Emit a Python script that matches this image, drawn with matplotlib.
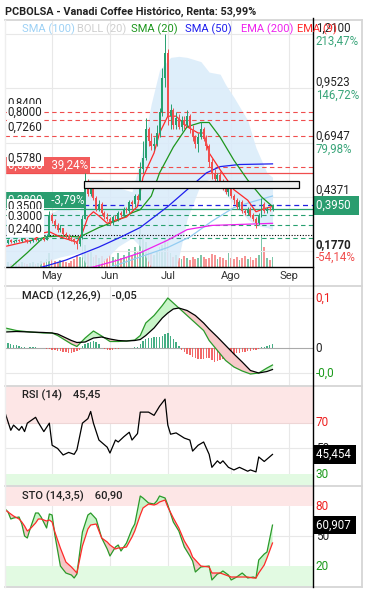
import numpy as np
import pandas as pd
import matplotlib
matplotlib.use('Agg')
import matplotlib.pyplot as plt
from matplotlib.patches import Rectangle
from matplotlib.lines import Line2D

plt.rcParams['font.family'] = ['Roboto', 'DejaVu Sans']

# --- data -----------------------------------------------------------------
holidays = ['2025-04-18', '2025-04-21', '2025-05-01']
days = pd.bdate_range('2025-04-03', '2025-08-22', freq='C', holidays=holidays)
axis_days = pd.bdate_range('2025-04-03', '2025-09-12', freq='C', holidays=holidays)
month_labels = ['May', 'Jun', 'Jul', 'Ago', 'Sep']

opens = [0.215, 0.22, 0.215, 0.23, 0.22, 0.225, 0.23, 0.225, 0.235, 0.23,
         0.22, 0.225, 0.235, 0.23, 0.235, 0.24, 0.23, 0.25, 0.35, 0.32,
         0.30, 0.28, 0.29, 0.26, 0.25, 0.24, 0.235, 0.22, 0.21, 0.24,
         0.33, 0.50, 0.45, 0.48, 0.43, 0.38, 0.40, 0.36, 0.34, 0.33,
         0.31, 0.34, 0.33, 0.36, 0.35, 0.38, 0.37, 0.41, 0.40, 0.44,
         0.42, 0.57, 0.62, 0.76, 0.70, 0.68, 0.69, 0.74, 0.84, 1.00,
         1.12, 0.82, 0.85, 0.78, 0.81, 0.77, 0.80, 0.78, 0.82, 0.76,
         0.72, 0.69, 0.72, 0.76, 0.71, 0.68, 0.60, 0.55, 0.52, 0.54,
         0.51, 0.48, 0.46, 0.48, 0.44, 0.42, 0.39, 0.41, 0.37, 0.36,
         0.38, 0.35, 0.33, 0.31, 0.35, 0.40, 0.37, 0.38, 0.375]
highs = [0.225, 0.23, 0.235, 0.235, 0.23, 0.235, 0.235, 0.24, 0.24, 0.235,
         0.23, 0.24, 0.24, 0.24, 0.245, 0.245, 0.26, 0.37, 0.36, 0.33,
         0.31, 0.30, 0.29, 0.27, 0.26, 0.25, 0.24, 0.225, 0.25, 0.35,
         0.55, 0.52, 0.50, 0.49, 0.44, 0.42, 0.41, 0.37, 0.36, 0.34,
         0.35, 0.35, 0.37, 0.37, 0.39, 0.39, 0.42, 0.42, 0.45, 0.45,
         0.60, 0.70, 0.81, 0.77, 0.74, 0.72, 0.78, 0.86, 1.05, 1.21,
         1.14, 0.88, 0.86, 0.84, 0.83, 0.82, 0.82, 0.85, 0.83, 0.78,
         0.73, 0.74, 0.79, 0.77, 0.73, 0.69, 0.62, 0.57, 0.55, 0.56,
         0.52, 0.50, 0.49, 0.49, 0.45, 0.43, 0.42, 0.42, 0.38, 0.39,
         0.39, 0.36, 0.34, 0.36, 0.43, 0.41, 0.39, 0.39, 0.40]
lows = [0.205, 0.21, 0.21, 0.215, 0.215, 0.22, 0.22, 0.22, 0.225, 0.215,
        0.215, 0.22, 0.225, 0.225, 0.23, 0.225, 0.23, 0.25, 0.31, 0.29,
        0.27, 0.27, 0.25, 0.24, 0.23, 0.225, 0.21, 0.19, 0.20, 0.235,
        0.33, 0.44, 0.44, 0.42, 0.37, 0.37, 0.35, 0.33, 0.32, 0.30,
        0.30, 0.32, 0.32, 0.34, 0.34, 0.36, 0.36, 0.38, 0.39, 0.41,
        0.42, 0.55, 0.61, 0.68, 0.66, 0.66, 0.68, 0.72, 0.82, 0.96,
        0.78, 0.76, 0.76, 0.76, 0.76, 0.75, 0.76, 0.77, 0.74, 0.70,
        0.67, 0.65, 0.71, 0.70, 0.66, 0.58, 0.52, 0.50, 0.49, 0.50,
        0.47, 0.45, 0.44, 0.43, 0.40, 0.38, 0.38, 0.36, 0.35, 0.35,
        0.34, 0.32, 0.29, 0.30, 0.34, 0.36, 0.36, 0.37, 0.37]
closes = [0.22, 0.215, 0.23, 0.22, 0.225, 0.23, 0.225, 0.235, 0.23, 0.22,
          0.225, 0.235, 0.23, 0.235, 0.24, 0.23, 0.25, 0.35, 0.32, 0.30,
          0.28, 0.29, 0.26, 0.25, 0.24, 0.235, 0.22, 0.21, 0.24, 0.33,
          0.50, 0.45, 0.48, 0.43, 0.38, 0.40, 0.36, 0.34, 0.33, 0.31,
          0.34, 0.33, 0.36, 0.35, 0.38, 0.37, 0.41, 0.40, 0.44, 0.42,
          0.57, 0.62, 0.76, 0.70, 0.68, 0.69, 0.74, 0.84, 1.00, 1.12,
          0.82, 0.85, 0.78, 0.81, 0.77, 0.80, 0.78, 0.82, 0.76, 0.72,
          0.69, 0.72, 0.76, 0.71, 0.68, 0.60, 0.55, 0.52, 0.54, 0.51,
          0.48, 0.46, 0.48, 0.44, 0.42, 0.39, 0.41, 0.37, 0.36, 0.38,
          0.35, 0.33, 0.31, 0.35, 0.40, 0.37, 0.38, 0.375, 0.395]
volume = [6, 4, 5, 3, 4, 6, 3, 5, 4, 3, 4, 5, 3, 4, 6, 5, 8, 14,
          8, 6, 5, 7, 6, 5, 4, 6, 8, 12, 10,
          28, 22, 14, 16, 10, 12, 9, 11, 8, 9, 12,
          10, 8, 14, 9, 12, 10, 18, 12, 20, 15,
          38, 33, 25, 18, 14, 12, 16, 20, 22, 29, 25,
          14, 10, 12, 9, 8, 11, 9, 7, 10, 8, 9, 12, 10, 8,
          9, 13, 12, 8, 10, 9, 7, 14, 9, 8, 10, 7, 9, 11, 8, 10, 7, 9, 12,
          31, 20, 9, 7, 10]

# overlays (day index, price)
ema9_idx = [1, 11, 15, 17, 21, 27, 29, 31, 33, 35, 38, 41, 45, 49, 51, 55, 57, 60, 63, 67,
            71, 73, 75, 79, 84, 89, 92, 95, 98]
ema9 = [0.20, 0.23, 0.265, 0.27, 0.245, 0.22, 0.265, 0.34, 0.365, 0.345, 0.31, 0.325, 0.34,
        0.39, 0.53, 0.645, 0.74, 0.82, 0.82, 0.77, 0.74, 0.74, 0.645, 0.565, 0.47, 0.42,
        0.365, 0.38, 0.39]
sma20_idx = [0, 3, 9, 15, 21, 28, 35, 42, 47, 50, 54, 57, 62, 67, 72, 75, 79, 84, 89, 94,
             98]
sma20 = [0.07, 0.10, 0.17, 0.245, 0.25, 0.245, 0.29, 0.325, 0.36, 0.375, 0.44, 0.55, 0.673,
         0.77, 0.79, 0.79, 0.72, 0.61, 0.516, 0.436, 0.39]
sma50_idx = [14, 23, 35, 43, 50, 60, 67, 74, 79, 86, 98]
sma50 = [0.10, 0.135, 0.197, 0.245, 0.29, 0.39, 0.47, 0.55, 0.58, 0.59, 0.593]
sma100_idx = [39, 50, 60, 68, 76, 84, 90, 98]
sma100 = [0.10, 0.15, 0.195, 0.245, 0.32, 0.385, 0.41, 0.44]
ema200_idx = [30, 33, 42, 50, 60, 67, 76, 98]
ema200 = [0.095, 0.102, 0.135, 0.17, 0.23, 0.28, 0.30, 0.31]
boll_idx = [0, 3, 9, 14, 21, 28, 31, 36, 42, 47, 50, 54, 57, 61, 64, 67, 72, 75, 79, 81,
            84, 89, 92, 96, 98]
boll_up = [0.33, 0.33, 0.33, 0.34, 0.38, 0.37, 0.52, 0.52, 0.48, 0.46, 0.61, 0.88, 1.04,
           1.10, 1.105, 1.10, 1.08, 1.03, 1.02, 0.97, 0.91, 0.80, 0.67, 0.55, 0.53]
boll_lo = [0.0, 0.0, 0.05, 0.12, 0.15, 0.17, 0.10, 0.12, 0.20, 0.24, 0.20, 0.10, 0.0, 0.0,
           0.15, 0.33, 0.50, 0.52, 0.48, 0.45, 0.40, 0.33, 0.30, 0.29, 0.28]

# price levels drawn on the chart
red_dashed = [0.84, 0.80, 0.726, 0.578]
red_dashed_txt = ['0,8400', '0,8000', '0,7260', '0,5780']
green_dashed = [0.35, 0.30, 0.24]
green_dashed_txt = ['0.3500', '0.3000', '0,2400']
target_hi, target_hi_txt = 0.55, '0,5500   39,24%'
target_lo, target_lo_txt = 0.38, '0,3800   -3,79%'
last_price, last_txt = 0.395, '0,3950'
ref_price = 0.2565
box_days = (29.6, 107.6)
box_prices = (0.477, 0.513)
right_ticks = [1.21, 0.9523, 0.6947, 0.4371, 0.177]
right_txt = ['1,2100', '0,9523', '0,6947', '0,4371', '0,1770']
right_pct = ['213,47%', '146,72%', '79,98%', '13,24%', '-54,14%']

# MACD
macd_idx = [1, 5, 10, 15, 18, 20, 25, 27, 30, 33, 36, 39, 42, 45, 48, 50, 52, 55, 58, 60,
            62, 64, 67, 70, 73, 75, 78, 81, 84, 87, 90, 93, 96, 98]
macd = [0.04, 0.035, 0.032, 0.03, 0.03, 0.025, 0.008, 0.003, 0.02, 0.034, 0.024, 0.013,
        0.013, 0.014, 0.016, 0.025, 0.05, 0.065, 0.085, 0.1, 0.09, 0.08, 0.065, 0.05, 0.035,
        0.015, -0.005, -0.025, -0.038, -0.046, -0.052, -0.05, -0.04, -0.034]
signal = [0.032, 0.033, 0.032, 0.031, 0.03, 0.028, 0.015, 0.011, 0.012, 0.02, 0.022, 0.018,
          0.015, 0.014, 0.015, 0.017, 0.025, 0.04, 0.06, 0.07, 0.078, 0.08, 0.075, 0.065,
          0.05, 0.038, 0.022, 0.005, -0.012, -0.028, -0.045, -0.05, -0.047, -0.043]
hist = [0.012, 0.013, 0.011, 0.009, 0.007, 0.006, 0.005,
        0.003, 0.002, 0.001, 0.002, 0.003, 0.002, 0.001, 0.0, 0.001, -0.001,
        -0.002, -0.003, -0.004, -0.005, -0.006, -0.007, -0.008, -0.009, -0.009, -0.008,
        -0.006, -0.003,
        0.004, 0.008, 0.011, 0.013, 0.014, 0.012, 0.008,
        0.001, -0.002, -0.004, -0.004, -0.003, -0.002,
        -0.001, 0.0, 0.001, 0.0, 0.001, 0.001, 0.002, 0.002,
        0.008, 0.014, 0.018, 0.02, 0.021, 0.022, 0.022, 0.023, 0.024, 0.028, 0.031, 0.024,
        0.018, 0.012, 0.004,
        -0.004, -0.008, -0.011, -0.014, -0.017, -0.019, -0.021, -0.022, -0.021, -0.019,
        -0.02, -0.024, -0.027, -0.026, -0.023, -0.021, -0.018, -0.016, -0.013, -0.012,
        -0.01, -0.009, -0.008, -0.007, -0.006, -0.005, -0.004, -0.003,
        -0.001, 0.002, 0.003, 0.004, 0.006, 0.008]

# RSI
rsi_idx = [1, 2, 3, 4, 6, 7, 8, 9, 12, 13, 15, 17, 18, 20, 22, 24, 26, 27, 29, 31, 32, 33,
           35, 38, 39, 41, 42, 44, 46, 47, 49, 50, 53, 55, 57, 59, 60, 61, 63, 66, 68, 69,
           71, 73, 75, 76, 78, 79, 80, 82, 84, 86, 89, 90, 92, 93, 95, 98]
rsi = [77, 70.5, 64, 68, 64, 67, 63, 69.5, 74, 70, 63, 69.5, 52.5, 50, 45, 47, 45.5, 49,
       69.5, 73, 78.5, 69.5, 56.5, 51, 46.5, 56.5, 55, 59, 62.5, 56.5, 61.5, 78, 78, 75.5,
       82.5, 88, 68, 61, 62, 58, 56.5, 48, 52.5, 55, 45.5, 35.5, 40.5, 38.5, 40.5, 35.5,
       33.5, 35.5, 32.5, 33.5, 32, 43.5, 40, 45.45]

# Stochastic
sto_idx = [1, 2, 3, 4, 6, 7, 8, 9, 10, 12, 13, 14, 16, 17, 18, 19, 21, 23, 25, 26, 27, 29,
           31, 32, 34, 36, 38, 39, 41, 42, 43, 45, 47, 48, 50, 51, 53, 55, 56, 57, 59, 60,
           62, 64, 66, 68, 69, 70, 72, 75, 76, 78, 79, 80, 82, 83, 85, 87, 89, 91, 92, 93,
           95, 96, 98]
sto_k = [77, 74, 67, 68, 69, 62, 50, 48, 57, 73, 73, 69, 58, 72, 71, 51, 20, 13, 11, 8, 12,
         54, 71, 73, 67, 48, 37, 30, 39, 41, 35, 43, 57, 62, 90, 88, 83, 82, 85, 90, 88, 81,
         64, 55, 39, 30, 25, 14, 19, 20, 6, 12, 13, 15, 11, 6, 9, 13, 8, 9, 8, 26, 32, 34,
         60.9]
sto_d = [76, 74, 72, 70, 67, 64, 60, 55, 57, 63, 67, 67, 65, 66, 64, 54, 38, 24, 19, 16, 13,
         40, 57, 61, 62, 48, 44, 41, 37, 38, 38, 39, 49, 55, 71, 78, 82, 81, 82, 84, 86, 79,
         68, 58, 45, 36, 29, 26, 20, 19, 13, 13, 13, 12, 10, 9, 9, 9, 9, 8, 8, 13, 21, 28,
         43]

# --- colours ---------------------------------------------------------------
UP = '#26a06f'
DOWN = '#f04e4e'
GRID = '#e8e8e8'
SEP = '#d6d6d6'

W, H = 367, 590
fig = plt.figure(figsize=(W / 100, H / 100), dpi=100)


def rect(top, bottom):
    return [5 / W, 1 - bottom / H, 308 / W, (bottom - top) / H]


def right_label(a, y, txt, color='#222222', weight='normal', va='center', size=8.3):
    a.annotate(txt, xy=(1, y), xycoords=('axes fraction', 'data'), xytext=(2, 0),
               textcoords='offset points', ha='left', va=va, color=color,
               fontsize=size, fontweight=weight, annotation_clip=False, zorder=10)


def value_box(a, y, txt, fc):
    a.annotate(txt, xy=(1, y), xycoords=('axes fraction', 'data'), xytext=(2, 0),
               textcoords='offset points', ha='left', va='center', color='white',
               fontsize=8.3, annotation_clip=False, zorder=12,
               bbox=dict(boxstyle='square,pad=0.25', fc=fc, ec='none'))


x = np.arange(len(days))
month_pos = [int(np.flatnonzero(axis_days.month == m)[0]) for m in (5, 6, 7, 8, 9)]
o, h, l, c = map(np.array, (opens, highs, lows, closes))
cols = np.where(c >= o, UP, DOWN)
XLIM = (0.9, 112.7)

# --- price panel -------------------------------------------------------------
ax = fig.add_axes(rect(20, 267))
vax = ax.twinx()
vax.set_zorder(ax.get_zorder() - 1)
ax.patch.set_visible(False)
vax.set_axis_off()
vax.bar(x, volume, width=0.65, color=cols, alpha=0.6, lw=0)
vax.set_ylim(0, 247)

ax.set_xlim(*XLIM)
ax.set_ylim(0.102, 1.278)
for m in month_pos:
    ax.axvline(m, color=GRID, lw=0.8, zorder=0)
for v in right_ticks:
    ax.axhline(v, color=GRID, lw=0.8, zorder=0)

ax.fill_between(boll_idx, boll_lo, boll_up, color='#d9ebfa', alpha=0.85, lw=0, zorder=1)

for v in red_dashed:
    ax.axhline(v, color=DOWN, lw=0.8, ls=(0, (4, 3)), zorder=2)
for v in green_dashed:
    ax.axhline(v, color=UP, lw=0.8, ls=(0, (4, 3)), zorder=2)
ax.axhline(target_hi, color=DOWN, lw=0.9, zorder=2)
ax.axhline(target_lo, color=UP, lw=0.9, zorder=2)
ax.axhline(last_price, color='#2020e0', lw=0.9, ls=(0, (4, 3)), zorder=2)
ax.axhline(ref_price, color='black', lw=0.8, ls=(0, (1, 1.5)), zorder=2)

ax.plot(sma100_idx, sma100, color='#93ccf2', lw=0.9, zorder=3)
ax.plot(ema200_idx, ema200, color='#ee22ee', lw=0.9, zorder=3)
ax.plot(sma50_idx, sma50, color='#1f1fee', lw=0.9, zorder=3)
ax.plot(sma20_idx, sma20, color='#1d961d', lw=0.9, zorder=3)
ax.plot(ema9_idx, ema9, color='#ff2a2a', lw=0.9, zorder=3)

ax.vlines(x, l, h, colors=cols, lw=0.7, zorder=4)
ax.bar(x, np.maximum(np.abs(c - o), 0.004), bottom=np.minimum(o, c), width=0.7,
       color=cols, lw=0, zorder=4)

ax.add_patch(Rectangle((box_days[0], box_prices[0]), box_days[1] - box_days[0],
                       box_prices[1] - box_prices[0], fc='#eeeeee', ec='black', lw=0.9,
                       zorder=5))

# left side level labels
lbl_kw = dict(xycoords=('axes fraction', 'data'), textcoords='offset points',
              ha='left', va='bottom', fontsize=8.3, zorder=9)
ax.annotate(target_hi_txt, xy=(0, target_hi), xytext=(2, 1), color='white',
            bbox=dict(boxstyle='square,pad=0.15', fc='#f25c5c', ec='none'), **lbl_kw)
ax.annotate(target_lo_txt, xy=(0, target_lo), xytext=(2, 1.5), color='white',
            bbox=dict(boxstyle='square,pad=0.15', fc='#2a9d6f', ec='none'), **lbl_kw)
for v, t in zip(red_dashed + green_dashed, red_dashed_txt + green_dashed_txt):
    ax.annotate(t, xy=(0, v), xytext=(2, 1.5), color='#222222',
                bbox=dict(boxstyle='square,pad=0.1', fc='white', ec='none'), **lbl_kw)

for v, t, p in zip(right_ticks, right_txt, right_pct):
    right_label(ax, v, t, weight='bold' if v == min(right_ticks) else 'normal', va='bottom')
    right_label(ax, v, p, color=DOWN if p.startswith('-') else '#3aa57a', va='top')
value_box(ax, last_price, last_txt + '  ', '#2a9d6f')

ax.set_yticks([])
ax.set_xticks(month_pos)
ax.set_xticklabels(month_labels)
ax.tick_params(axis='x', length=0, pad=3, labelsize=8, colors='#333333')
for s in ('top', 'right', 'left'):
    ax.spines[s].set_visible(False)
ax.spines['bottom'].set_color('black')
ax.spines['bottom'].set_linewidth(1)

legend_items = [('SMA (100)', '#9dd1f5'), ('BOLL (20)', '#cfcfcf'), ('SMA (20)', '#1d961d'),
                ('SMA (50)', '#1f1fee'), ('EMA (200)', '#ee22ee'), ('EMA (9)', '#ff2a2a')]
legend_px = [22, 77, 131, 185, 241, 297]
for (t, col), px in zip(legend_items, legend_px):
    fig.text(px / W, 1 - 29 / H, t, color=col, fontsize=8, va='center')

fig.text(5 / W, 1 - 12 / H, 'PCBOLSA - Vanadi Coffee Histórico, Renta: 53,99%',
         fontsize=7.8, fontweight='bold', va='center', color='#222222')


def panel(top, bottom, ylim):
    a = fig.add_axes(rect(top, bottom))
    a.set_xlim(*XLIM)
    a.set_ylim(*ylim)
    a.set_xticks([])
    a.set_yticks([])
    for s in a.spines.values():
        s.set_visible(False)
    for m in month_pos:
        a.axvline(m, color=GRID, lw=0.8, zorder=0)
    return a


# --- MACD ------------------------------------------------------------------
mx = panel(286, 385, (-0.074, 0.124))
for v in (0.1, -0.05):
    mx.axhline(v, color=GRID, lw=0.8, zorder=0)
mx.axhline(0, color='#aaaaaa', lw=0.8, zorder=1)
hv = np.array(hist)
mx.bar(x, hv, width=0.5, color=np.where(hv >= 0, UP, DOWN), alpha=0.85, lw=0, zorder=2)
mv, sv = np.array(macd), np.array(signal)
mx.fill_between(macd_idx, mv, sv, where=mv >= sv, interpolate=True, color='#c9f5c9', lw=0,
                zorder=3)
mx.fill_between(macd_idx, mv, sv, where=mv < sv, interpolate=True, color='#f7c9c9', lw=0,
                zorder=3)
mx.plot(macd_idx, macd, color='#2a9a2a', lw=0.9, zorder=4)
mx.plot(macd_idx, signal, color='black', lw=0.9, zorder=4)
mx.text(0.055, 0.9, 'MACD (12,26,9)    -0,05', transform=mx.transAxes, fontsize=8,
        fontweight='medium', va='center', color='#222222')
right_label(mx, 0.1, '0,1', color='#ee2020', size=8.5)
right_label(mx, 0, '0', size=8.5)
right_label(mx, -0.05, '-0,0', color='#1a9a1a', size=8.5)

# --- RSI -------------------------------------------------------------------
rx = panel(386, 485, (21.9, 98.1))
rx.axhspan(70, 98.1, color='#fde6e6', lw=0, zorder=0)
rx.axhspan(21.9, 30, color='#e2fae2', lw=0, zorder=0)
rx.axhline(50, color=GRID, lw=0.8, zorder=0)
rx.axhline(70, color='#eed6d6', lw=0.8, zorder=0)
rx.plot(rsi_idx, rsi, color='black', lw=0.9, zorder=3)
rx.text(0.055, 0.91, 'RSI (14)    45,45', transform=rx.transAxes, fontsize=8,
        fontweight='medium', va='center', color='#222222')
right_label(rx, 70, '70', color='#ee2020', size=8.5)
right_label(rx, 50, '50', size=8.5)
right_label(rx, 30, '30', color='#1a9a1a', size=8.5)
value_box(rx, rsi[-1], '45,454 ', 'black')

# --- Stochastic ------------------------------------------------------------
sx = panel(487, 586, (0, 99))
sx.axhspan(80, 99, color='#fde6e6', lw=0, zorder=0)
sx.axhspan(0, 20, color='#e2fae2', lw=0, zorder=0)
sx.axhline(50, color=GRID, lw=0.8, zorder=0)
kv, dv = np.array(sto_k), np.array(sto_d)
sx.fill_between(sto_idx, kv, dv, where=kv >= dv, interpolate=True, color='#c9f5c9', lw=0,
                zorder=2)
sx.fill_between(sto_idx, kv, dv, where=kv < dv, interpolate=True, color='#f5c6c6', lw=0,
                zorder=2)
sx.plot(sto_idx, sto_k, color='#2a9a2a', lw=0.9, zorder=3)
sx.plot(sto_idx, sto_d, color='#ff2a2a', lw=0.9, zorder=3)
sx.text(0.055, 0.91, 'STO (14,3,5)    60,90', transform=sx.transAxes, fontsize=8,
        fontweight='medium', va='center', color='#222222')
right_label(sx, 80, '80', color='#ee2020', size=8.5)
right_label(sx, 50, '50', size=8.5)
right_label(sx, 20, '20', color='#1a9a1a', size=8.5)
value_box(sx, sto_k[-1], '60,907 ', 'black')

# --- frame -------------------------------------------------------------------
for py in (20, 286, 386, 486, 587):
    fig.add_artist(Line2D([5 / W, 362 / W], [1 - py / H] * 2, color=SEP, lw=1.3))
fig.add_artist(Line2D([362 / W] * 2, [1 - 20 / H, 1 - 587 / H], color=SEP, lw=1.3))
fig.add_artist(Line2D([5 / W] * 2, [1 - 20 / H, 1 - 587 / H], color='#eeeeee', lw=1))
fig.add_artist(Line2D([313 / W] * 2, [1 - 18 / H, 1 - 587 / H], color='black', lw=1))

fig.savefig('out.png', dpi=100)
